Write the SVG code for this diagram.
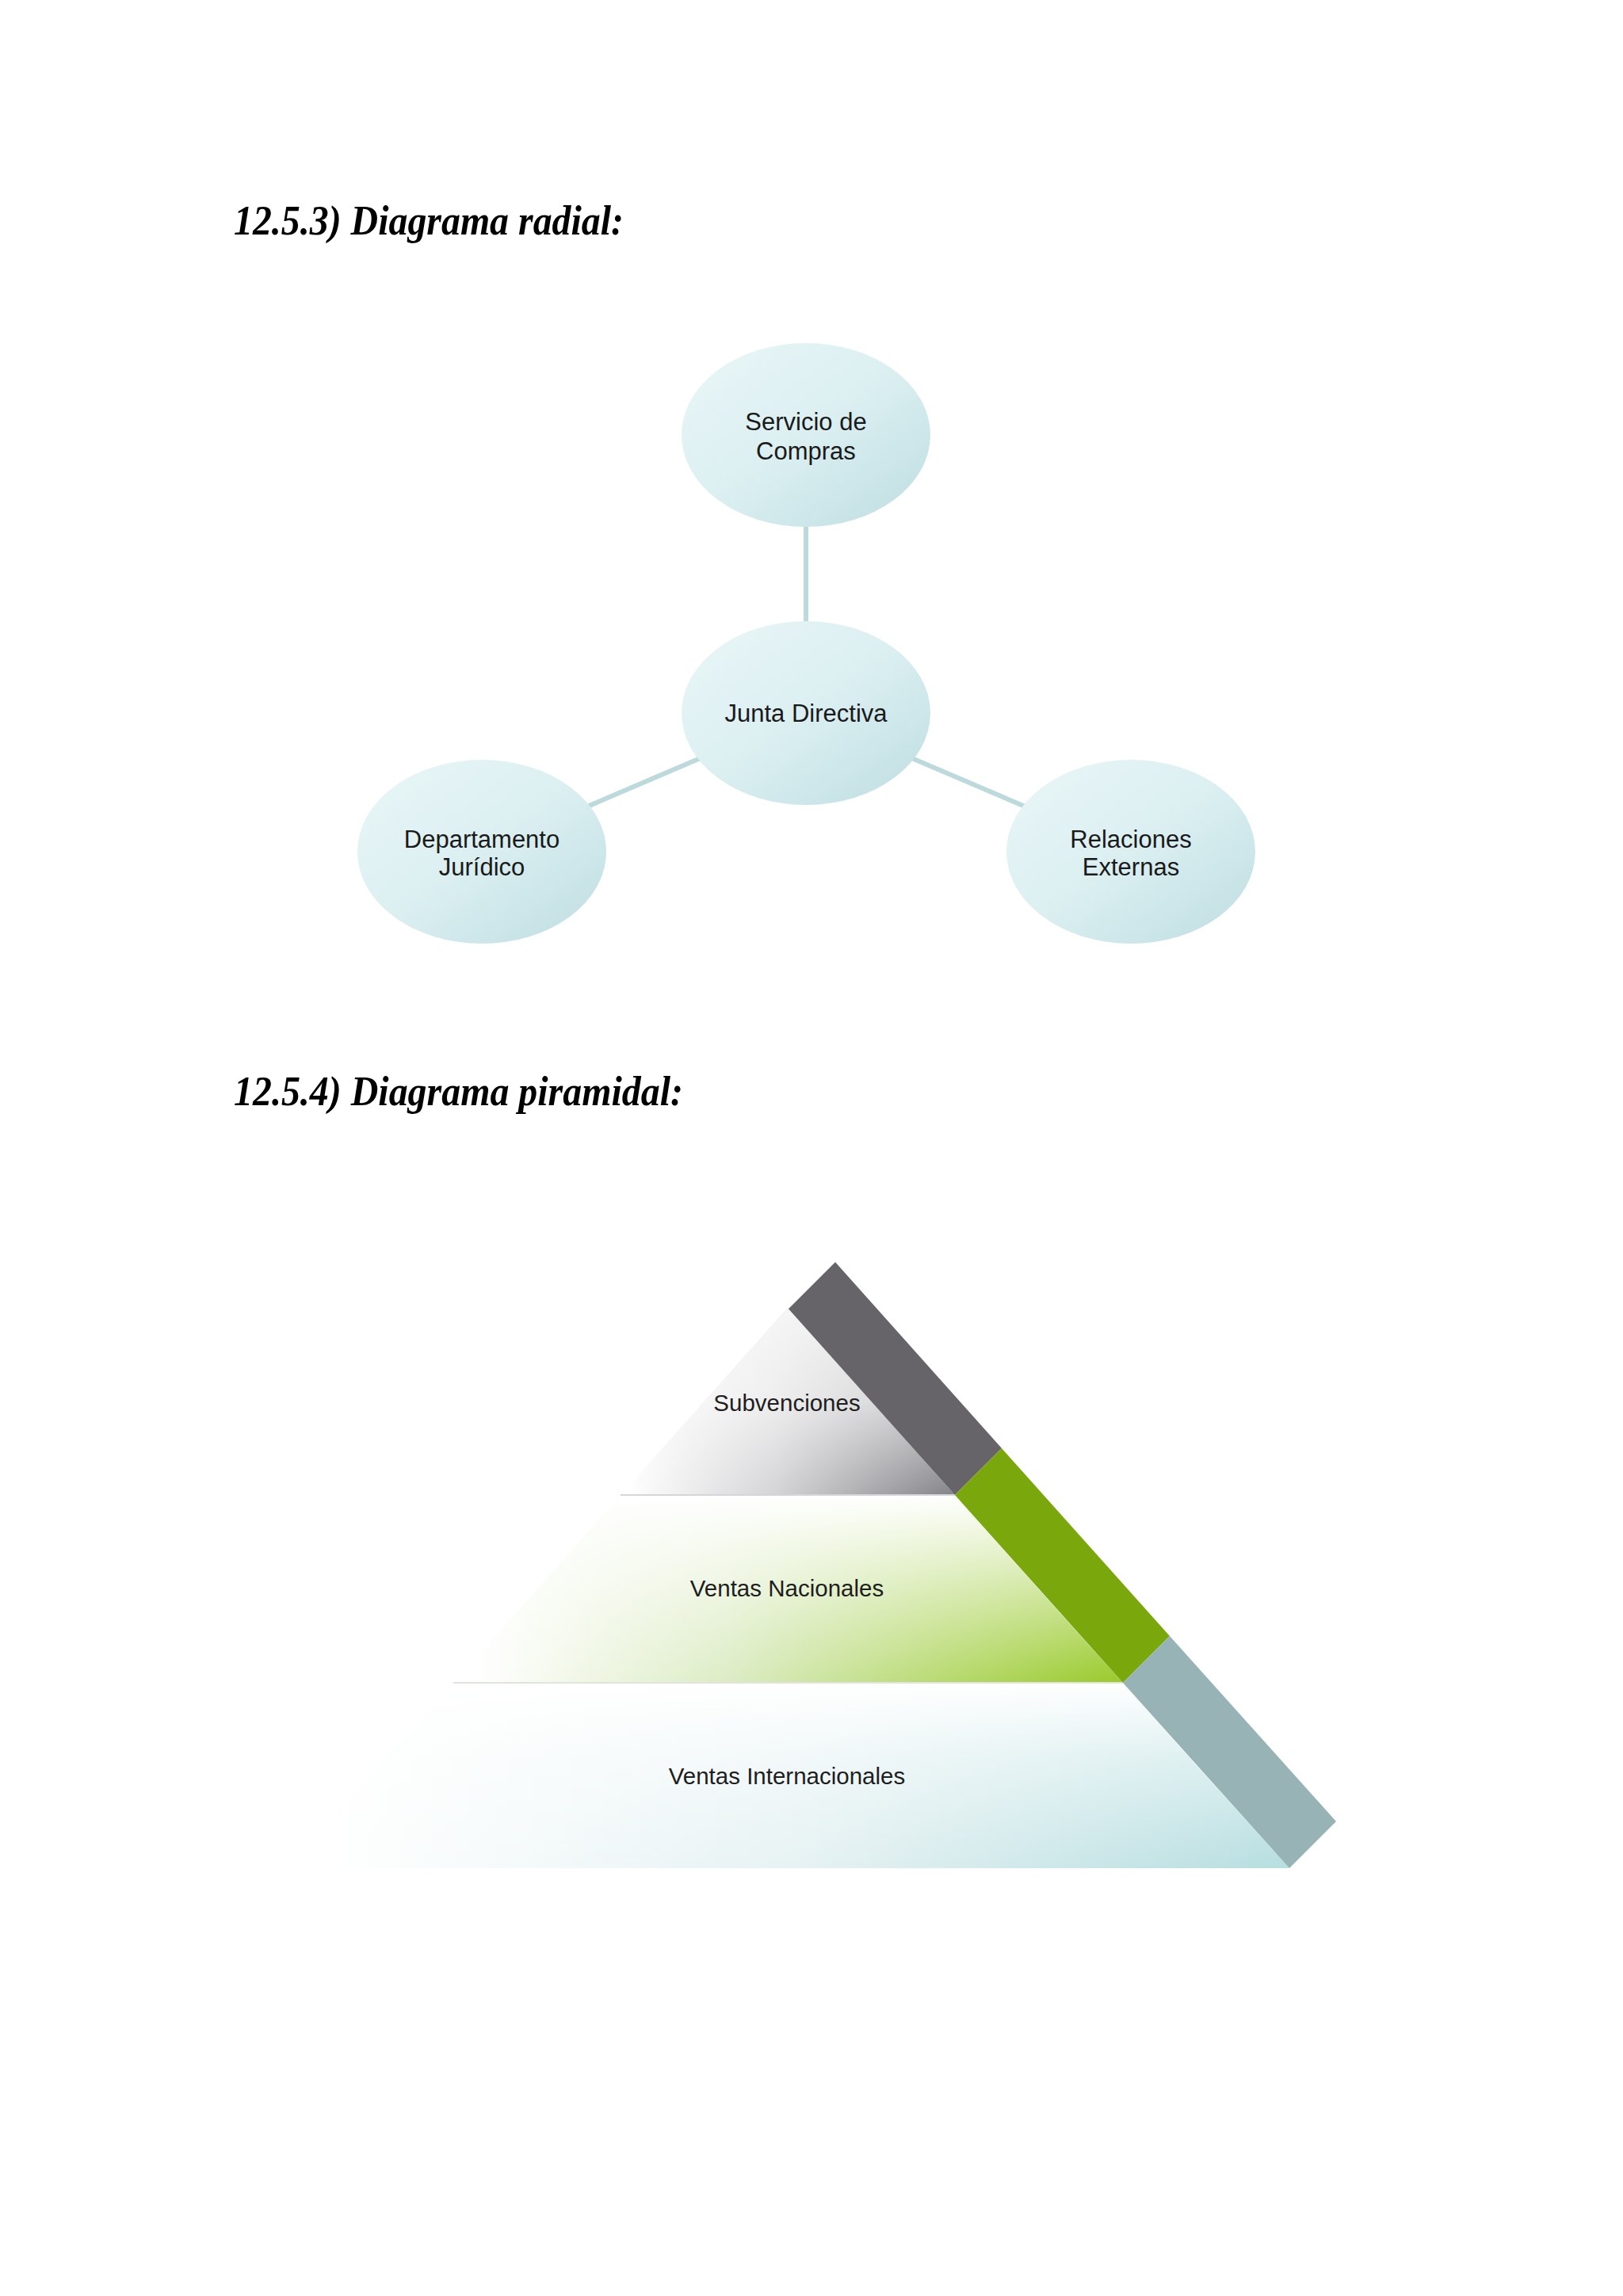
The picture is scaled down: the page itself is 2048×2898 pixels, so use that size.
<svg xmlns="http://www.w3.org/2000/svg" width="2048" height="2898" viewBox="0 0 2048 2898">
  <defs>
    <style>
      .title { font-family: "Liberation Serif", "Times New Roman", serif; font-weight: bold; font-style: italic; font-size: 53px; fill: #000000; }
      .lbl { font-family: "Liberation Sans", Arial, sans-serif; font-size: 31px; fill: #1a1a1a; text-anchor: middle; }
      .plbl { font-family: "Liberation Sans", Arial, sans-serif; font-size: 29.5px; fill: #1e1e1e; text-anchor: middle; }
      .bubble { fill: url(#bubbleGrad); }
      .conn { stroke: #bcd9dc; stroke-width: 6; fill: none; }
      .sep { stroke-width: 2; fill: none; }
    </style>
    <linearGradient id="bubbleGrad" x1="0" y1="0" x2="1" y2="1">
      <stop offset="0" stop-color="#eaf6f7"/>
      <stop offset="0.5" stop-color="#dbeff1"/>
      <stop offset="1" stop-color="#bddde1"/>
    </linearGradient>
    <linearGradient id="grayH" gradientUnits="userSpaceOnUse" x1="790" y1="0" x2="1210" y2="0">
      <stop offset="0" stop-color="#ffffff"/>
      <stop offset="0.45" stop-color="#d4d4d6"/>
      <stop offset="1" stop-color="#828186"/>
    </linearGradient>
    <linearGradient id="grayV" gradientUnits="userSpaceOnUse" x1="0" y1="1651" x2="0" y2="1887">
      <stop offset="0" stop-color="#ffffff" stop-opacity="0.8"/>
      <stop offset="0.5" stop-color="#ffffff" stop-opacity="0.6"/>
      <stop offset="1" stop-color="#ffffff" stop-opacity="0"/>
    </linearGradient>
    <linearGradient id="greenH" gradientUnits="userSpaceOnUse" x1="600" y1="0" x2="1400" y2="0">
      <stop offset="0" stop-color="#ffffff"/>
      <stop offset="0.4" stop-color="#dcecc4"/>
      <stop offset="1" stop-color="#9bcb2e"/>
    </linearGradient>
    <linearGradient id="greenV" gradientUnits="userSpaceOnUse" x1="0" y1="1887" x2="0" y2="2124">
      <stop offset="0" stop-color="#ffffff" stop-opacity="1"/>
      <stop offset="0.45" stop-color="#ffffff" stop-opacity="0.55"/>
      <stop offset="1" stop-color="#ffffff" stop-opacity="0"/>
    </linearGradient>
    <linearGradient id="blueH" gradientUnits="userSpaceOnUse" x1="400" y1="0" x2="1620" y2="0">
      <stop offset="0" stop-color="#ffffff"/>
      <stop offset="0.5" stop-color="#e6f2f3"/>
      <stop offset="1" stop-color="#b7dee0"/>
    </linearGradient>
    <linearGradient id="blueV" gradientUnits="userSpaceOnUse" x1="0" y1="2124" x2="0" y2="2358">
      <stop offset="0" stop-color="#ffffff" stop-opacity="1"/>
      <stop offset="0.4" stop-color="#ffffff" stop-opacity="0.5"/>
      <stop offset="1" stop-color="#ffffff" stop-opacity="0"/>
    </linearGradient>
  </defs>

  <rect x="0" y="0" width="2048" height="2898" fill="#ffffff"/>

  <text class="title" x="295" y="296" textLength="492" lengthAdjust="spacingAndGlyphs">12.5.3) Diagrama radial:</text>
  <text class="title" x="295" y="1395" textLength="567" lengthAdjust="spacingAndGlyphs">12.5.4) Diagrama piramidal:</text>

  <g id="connectors">
    <line class="conn" x1="1017" y1="549" x2="1017" y2="900"/>
    <line class="conn" x1="1017" y1="900" x2="608" y2="1075"/>
    <line class="conn" x1="1017" y1="900" x2="1427" y2="1075"/>
  </g>

  <g id="node-servicio">
    <ellipse class="bubble" cx="1017" cy="549" rx="157" ry="116"/>
    <text class="lbl" x="1017" y="543">Servicio de</text>
    <text class="lbl" x="1017" y="580">Compras</text>
  </g>
  <g id="node-junta">
    <ellipse class="bubble" cx="1017" cy="900" rx="157" ry="116"/>
    <text class="lbl" x="1017" y="911">Junta Directiva</text>
  </g>
  <g id="node-departamento">
    <ellipse class="bubble" cx="608" cy="1075" rx="157" ry="116"/>
    <text class="lbl" x="608" y="1070">Departamento</text>
    <text class="lbl" x="608" y="1105">Jurídico</text>
  </g>
  <g id="node-relaciones">
    <ellipse class="bubble" cx="1427" cy="1075" rx="157" ry="116"/>
    <text class="lbl" x="1427" y="1070">Relaciones</text>
    <text class="lbl" x="1427" y="1105">Externas</text>
  </g>

  <g id="level-subvenciones">
    <polygon points="994,1651 1205,1887 783,1887" fill="url(#grayH)"/>
    <polygon points="994,1651 1205,1887 783,1887" fill="url(#grayV)"/>
    <line class="sep" x1="783" y1="1887" x2="1205" y2="1887" stroke="#d6d6d8"/>
    <polygon points="995,1652 1054,1593 1264,1828 1205,1887" fill="#666469"/>
    <text class="plbl" x="993" y="1781">Subvenciones</text>
  </g>
  <g id="level-nacionales">
    <polygon points="783,1889 1205,1889 1417,2124 572,2124" fill="url(#greenH)"/>
    <polygon points="783,1889 1205,1889 1417,2124 572,2124" fill="url(#greenV)"/>
    <line class="sep" x1="572" y1="2124" x2="1417" y2="2124" stroke="#e0e5dc"/>
    <polygon points="1205,1887 1264,1828 1476,2065 1417,2124" fill="#7aa70c"/>
    <text class="plbl" x="993" y="2015">Ventas Nacionales</text>
  </g>
  <g id="level-internacionales">
    <polygon points="572,2126 1417,2126 1627,2358 361,2358" fill="url(#blueH)"/>
    <polygon points="572,2126 1417,2126 1627,2358 361,2358" fill="url(#blueV)"/>
    <polygon points="1417,2124 1476,2065 1686,2299 1627,2358" fill="#97b3b6"/>
    <text class="plbl" x="993" y="2252">Ventas Internacionales</text>
  </g>
</svg>
